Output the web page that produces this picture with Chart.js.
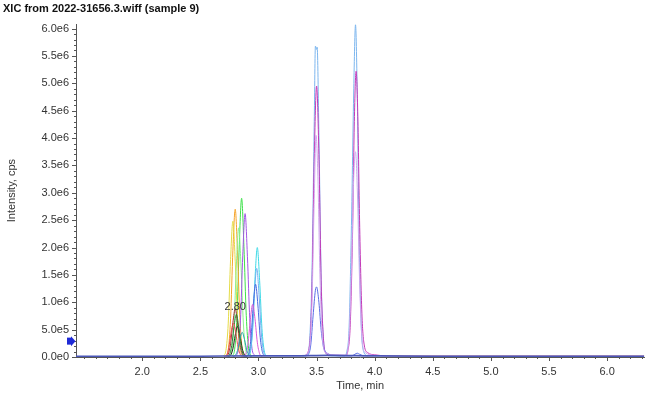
<!DOCTYPE html>
<html>
<head>
<meta charset="utf-8">
<script src="https://cdn.jsdelivr.net/npm/chart.js@4.4.1/dist/chart.umd.min.js"></script>
<style>
  html, body { margin: 0; padding: 0; background: #fff; }
</style>
</head>
<body>
<canvas id="xic" width="650" height="395"></canvas>
<script>
// XIC traces: [time (min), intensity (1e6 cps)]
const orangeTrace = [[2.72,0.02],[2.74,0.13],[2.76,0.70],[2.78,1.95],[2.80,2.70],[2.82,1.90],[2.84,0.72],[2.86,0.15],[2.88,0.03]];
const yellowTrace = [[2.70,0.02],[2.72,0.12],[2.74,0.62],[2.76,1.78],[2.78,2.48],[2.80,1.75],[2.82,0.66],[2.84,0.14],[2.86,0.03]];
const greenTrace = [[2.775,0.02],[2.795,0.14],[2.815,0.74],[2.835,2.05],[2.855,2.90],[2.875,2.02],[2.895,0.76],[2.915,0.16],[2.935,0.03]];
const paleGreenTrace = [[2.75,0.02],[2.77,0.11],[2.79,0.60],[2.81,1.68],[2.83,2.36],[2.85,1.66],[2.87,0.62],[2.89,0.13],[2.91,0.02]];
const purpleTrace = [[2.805,0.02],[2.825,0.12],[2.845,0.66],[2.865,1.86],[2.885,2.62],[2.905,1.84],[2.925,0.70],[2.945,0.15],[2.965,0.03]];
const cyanTrace = [[2.91,0.02],[2.93,0.09],[2.95,0.50],[2.97,1.42],[2.99,2.00],[3.01,1.40],[3.03,0.52],[3.05,0.11],[3.07,0.02]];
const skyTrace = [[2.905,0.01],[2.925,0.07],[2.945,0.40],[2.965,1.15],[2.985,1.62],[3.005,1.14],[3.025,0.42],[3.045,0.09],[3.065,0.02]];
const blueTrace = [[2.895,0.01],[2.915,0.06],[2.935,0.33],[2.955,0.94],[2.975,1.33],[2.995,0.95],[3.015,0.36],[3.035,0.08],[3.055,0.02]];
const pinkTrace = [[2.87,0.01],[2.89,0.05],[2.91,0.24],[2.93,0.68],[2.95,0.96],[2.97,0.70],[2.99,0.27],[3.01,0.06],[3.03,0.01]];
const darkRedTrace = [[2.72,0.01],[2.74,0.05],[2.76,0.24],[2.78,0.63],[2.80,0.88],[2.82,0.62],[2.84,0.24],[2.86,0.05],[2.88,0.01]];
const blackTrace = [[2.74,0.01],[2.76,0.03],[2.78,0.15],[2.80,0.40],[2.82,0.56],[2.84,0.40],[2.86,0.16],[2.88,0.04],[2.90,0.01]];
const forestTrace = [[2.73,0.01],[2.75,0.04],[2.77,0.21],[2.79,0.56],[2.81,0.78],[2.83,0.55],[2.85,0.21],[2.87,0.04],[2.89,0.01]];
const redTrace = [[2.705,0.01],[2.725,0.03],[2.745,0.17],[2.765,0.45],[2.785,0.62],[2.805,0.44],[2.825,0.17],[2.845,0.04],[2.865,0.01]];
const tealTrace = [[2.78,0.01],[2.80,0.03],[2.82,0.12],[2.84,0.32],[2.86,0.45],[2.88,0.32],[2.90,0.12],[2.92,0.03],[2.94,0.01]];
const lightBlueTrace = [[3.38,0.02],[3.42,0.05],[3.44,0.30],[3.46,1.50],[3.48,4.30],[3.49,5.68],[3.50,5.62],[3.505,5.66],[3.52,4.10],[3.54,1.40],[3.56,0.32],[3.58,0.07],[3.62,0.02],
  [3.74,0.02],[3.76,0.10],[3.78,0.55],[3.80,2.40],[3.82,4.90],[3.835,6.07],[3.85,4.80],[3.865,2.30],[3.885,0.55],[3.905,0.10],[3.94,0.02]];
const magentaTrace = [[3.40,0.02],[3.44,0.22],[3.46,1.20],[3.48,3.60],[3.50,4.95],[3.52,3.70],[3.54,1.30],[3.56,0.30],[3.58,0.07],[3.62,0.03],
  [3.75,0.03],[3.77,0.12],[3.79,0.60],[3.81,2.30],[3.825,4.30],[3.84,5.22],[3.855,4.40],[3.87,2.50],[3.89,0.80],[3.91,0.22],[3.94,0.08],[4.00,0.04],[4.10,0.02]];
const lavenderTrace = [[3.40,0.03],[3.44,0.18],[3.46,0.95],[3.48,2.90],[3.495,4.05],[3.51,3.40],[3.53,1.40],[3.55,0.35],[3.58,0.08],[3.65,0.04],
  [3.75,0.03],[3.78,0.40],[3.80,1.60],[3.82,3.30],[3.835,3.75],[3.85,3.10],[3.87,1.40],[3.89,0.35],[3.92,0.08],[4.00,0.03]];
const royalTrace = [[3.40,0.02],[3.43,0.05],[3.45,0.22],[3.47,0.75],[3.49,1.22],[3.50,1.28],[3.52,1.00],[3.54,0.48],[3.56,0.18],[3.58,0.09],[3.60,0.06],[3.63,0.03],
  [3.80,0.02],[3.83,0.05],[3.85,0.07],[3.87,0.05],[3.90,0.02]];
const baseTrace = [[1.43,0.015],[2.0,0.012],[2.5,0.015],[3.0,0.02],[3.3,0.02],[3.6,0.03],[4.0,0.02],[4.5,0.015],[5.0,0.015],[5.5,0.012],[6.0,0.012],[6.32,0.012]];
const pinkBaseTrace = [[4.10,0.02],[4.6,0.02],[5.2,0.022],[5.8,0.02],[6.32,0.02]];

// axes
const xTickLabels = ['2.0','2.5','3.0','3.5','4.0','4.5','5.0','5.5','6.0'];
const yTickLabels = ['0.0e0','5.0e5','1.0e6','1.5e6','2.0e6','2.5e6','3.0e6','3.5e6','4.0e6','4.5e6','5.0e6','5.5e6','6.0e6'];
const rtLabel = { text: '2.80', t: 2.80, i: 0.92 };
const arrowLevel = 0.29; // 1e6 cps

const xMinor = [];
for (let k = 15; k <= 63; k++) xMinor.push(k / 10);
const yMinor = [];
for (let k = 0; k <= 60; k++) yMinor.push(k * 1e5);

const isXMajor = v => xTickLabels.some(l => Math.abs(parseFloat(l) - v) < 1e-6);
const yLabelFor = v => (v % 5e5 === 0 ? yTickLabels[v / 5e5] : '');

const traces = [
  [baseTrace, '#4a56b8', 1.6], [pinkBaseTrace, '#c98aa6', 1.2],
  [lavenderTrace, '#cfa8ee', 1], [royalTrace, '#5a6ee6', 1], [magentaTrace, '#c43ab8', 1], [lightBlueTrace, '#7db6ee', 1],
  [tealTrace, '#2aa8a8', 1], [redTrace, '#e65050', 1], [forestTrace, '#2a8a3a', 1], [blackTrace, '#262626', 1], [darkRedTrace, '#a0303a', 1],
  [pinkTrace, '#d85ad8', 1], [blueTrace, '#4a6ae0', 1], [skyTrace, '#70b0f2', 1], [cyanTrace, '#3fd9e6', 1],
  [purpleTrace, '#a356e6', 1], [paleGreenTrace, '#8ef08e', 1], [yellowTrace, '#e4dc48', 1], [orangeTrace, '#f5a42a', 1], [greenTrace, '#3ee04a', 1]
];

const FONT = '"Liberation Sans", Arial, sans-serif';

const marks = {
  id: 'marks',
  afterDraw(chart) {
    const { ctx, chartArea: a, scales: { x, y } } = chart;
    ctx.save();
    ctx.strokeStyle = '#555';
    ctx.lineWidth = 1;
    ctx.beginPath();
    xMinor.forEach(v => {
      const px = Math.round(x.getPixelForValue(v)) + 0.5;
      ctx.moveTo(px, a.bottom);
      ctx.lineTo(px, a.bottom + (isXMajor(v) ? 4 : 2));
    });
    yMinor.forEach(v => {
      const py = Math.round(y.getPixelForValue(v)) + 0.5;
      ctx.moveTo(a.left, py);
      ctx.lineTo(a.left - (v % 5e5 === 0 ? 4 : 2), py);
    });
    ctx.stroke();

    ctx.fillStyle = '#333';
    ctx.font = '11px ' + FONT;
    ctx.textAlign = 'center';
    ctx.textBaseline = 'middle';
    ctx.fillText(rtLabel.text, x.getPixelForValue(rtLabel.t), y.getPixelForValue(rtLabel.i * 1e6));

    // level marker on the intensity axis
    const ay = y.getPixelForValue(arrowLevel * 1e6);
    ctx.fillStyle = '#1f2ad6';
    ctx.fillRect(a.left - 9, ay - 3.5, 5, 7);
    ctx.beginPath();
    ctx.moveTo(a.left - 5, ay - 5);
    ctx.lineTo(a.left - 0.5, ay);
    ctx.lineTo(a.left - 5, ay + 5);
    ctx.closePath();
    ctx.fill();
    ctx.restore();
  }
};

new Chart(document.getElementById('xic'), {
  type: 'line',
  data: {
    datasets: traces.map(([pts, color, width]) => ({
      data: pts.map(p => ({ x: p[0], y: p[1] * 1e6 })),
      borderColor: color,
      borderWidth: width,
      pointRadius: 0,
      cubicInterpolationMode: 'monotone',
      fill: false
    }))
  },
  options: {
    responsive: false,
    devicePixelRatio: 1,
    animation: false,
    layout: { padding: { left: 3, right: 5, top: 0, bottom: 0 } },
    plugins: {
      legend: { display: false },
      tooltip: { enabled: false },
      title: {
        display: true,
        text: 'XIC from 2022-31656.3.wiff (sample 9)',
        align: 'start',
        color: '#111',
        font: { family: FONT, size: 11, weight: 'bold' },
        padding: { top: 2, bottom: 9 }
      }
    },
    scales: {
      x: {
        type: 'linear',
        min: 1.43,
        max: 6.32,
        afterBuildTicks: s => { s.ticks = xMinor.map(v => ({ value: v })); },
        afterFit: s => { s.height = 38; },
        ticks: {
          autoSkip: false,
          maxRotation: 0,
          padding: 8,
          color: '#333',
          font: { family: FONT, size: 11 },
          callback: v => (isXMajor(v) ? xTickLabels.find(l => Math.abs(parseFloat(l) - v) < 1e-6) : '')
        },
        grid: { drawOnChartArea: false, drawTicks: false },
        border: { color: '#555', width: 1 },
        title: { display: true, text: 'Time, min', color: '#333', font: { family: FONT, size: 11 }, padding: { top: 0, bottom: 2 } }
      },
      y: {
        min: 0,
        max: 6.08e6,
        afterBuildTicks: s => { s.ticks = yMinor.map(v => ({ value: v })); },
        afterFit: s => { s.width = 73; },
        ticks: {
          autoSkip: false,
          padding: 7,
          color: '#333',
          font: { family: FONT, size: 11 },
          callback: v => yLabelFor(v)
        },
        grid: { drawOnChartArea: false, drawTicks: false },
        border: { color: '#555', width: 1 },
        title: { display: true, text: 'Intensity, cps', color: '#333', font: { family: FONT, size: 11 }, padding: { top: 2, bottom: 0 } }
      }
    }
  },
  plugins: [marks]
});
</script>
</body>
</html>
